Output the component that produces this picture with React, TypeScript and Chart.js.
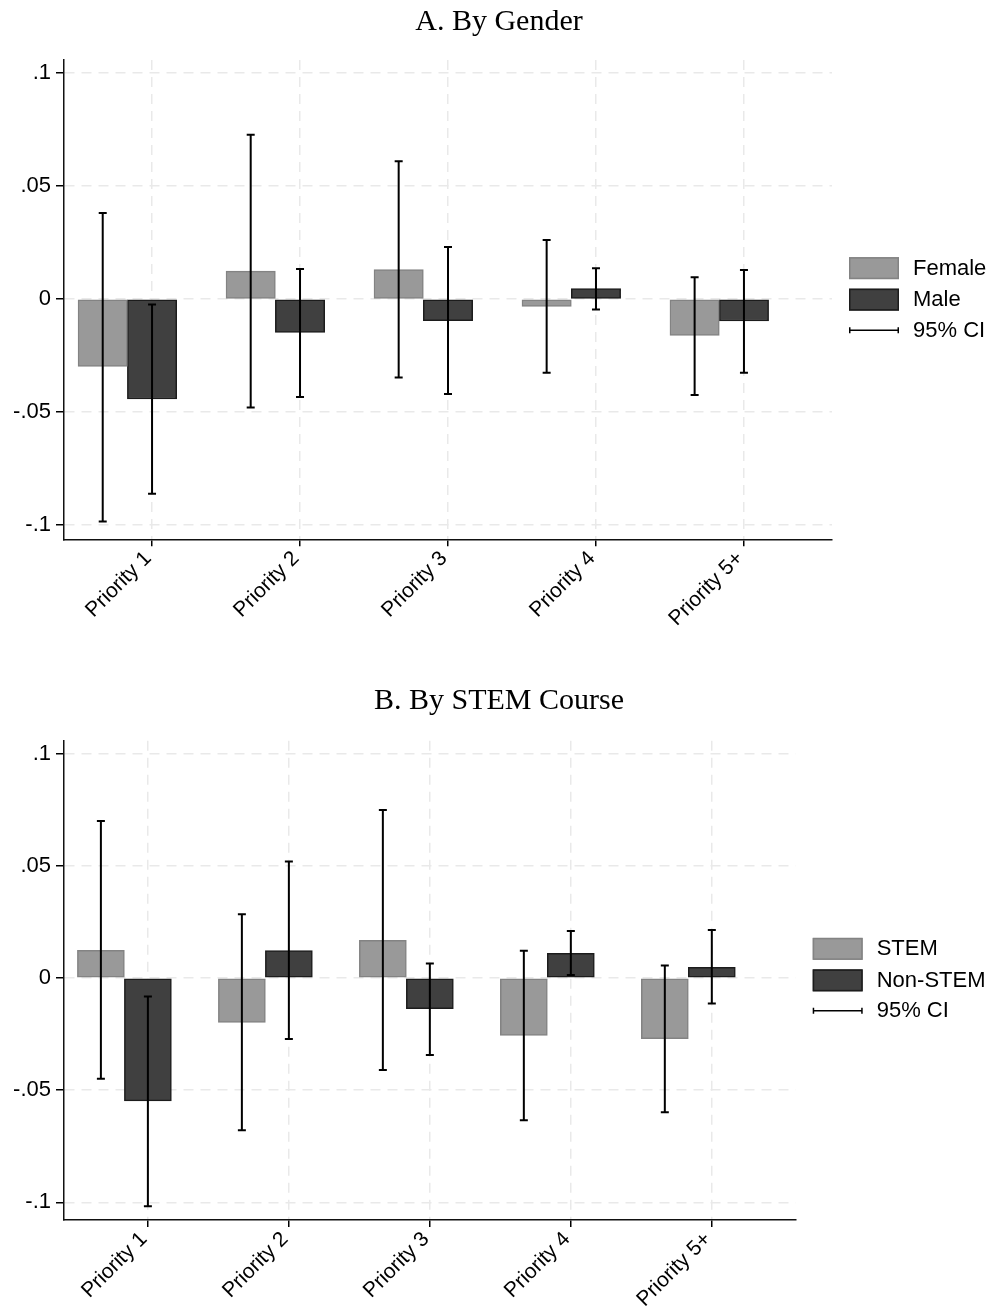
import React, { useEffect, useRef } from 'react';
import { Chart, registerables } from 'chart.js';

Chart.register(...registerables);

// ---------- data ----------
const categories = ['Priority 1', 'Priority 2', 'Priority 3', 'Priority 4', 'Priority 5+'];
const yTickValues = [-0.1, -0.05, 0, 0.05, 0.1];
const yTickLabels = ['-.1', '-.05', '0', '.05', '.1'];
const ciLabel = '95% CI';

// Panel A: by gender
const titleA = 'A. By Gender';
const femaleLabel = 'Female';
const femaleEst = [-0.0298, 0.0124, 0.0131, -0.0032, -0.0161];
const femaleLo = [-0.0984, -0.048, -0.0347, -0.0326, -0.0424];
const femaleHi = [0.0381, 0.0727, 0.061, 0.0261, 0.0097];
const maleLabel = 'Male';
const maleEst = [-0.0442, -0.0148, -0.0095, 0.0046, -0.0097];
const maleLo = [-0.0861, -0.0433, -0.042, -0.0046, -0.0326];
const maleHi = [-0.0024, 0.0133, 0.023, 0.0137, 0.0129];

// Panel B: by STEM course
const titleB = 'B. By STEM Course';
const stemLabel = 'STEM';
const stemEst = [0.0123, -0.0198, 0.0168, -0.0256, -0.027];
const stemLo = [-0.0449, -0.0679, -0.041, -0.0634, -0.0599];
const stemHi = [0.07, 0.0284, 0.0749, 0.0122, 0.0056];
const nonStemLabel = 'Non-STEM';
const nonStemEst = [-0.0548, 0.0122, -0.0137, 0.011, 0.0048];
const nonStemLo = [-0.1018, -0.0272, -0.0343, 0.0013, -0.0114];
const nonStemHi = [-0.0083, 0.0519, 0.0065, 0.021, 0.0214];

// ---------- styles ----------
const SANS = '"Liberation Sans", Arial, Helvetica, sans-serif';
const SERIF = '"Liberation Serif", "Times New Roman", serif';
const LIGHT_FILL = '#999999';
const LIGHT_BORDER = '#838383';
const DARK_FILL = '#404040';
const DARK_BORDER = '#1c1c1c';
const GRID = '#e9e9e9';
const W = 989;
const H = 654;

// ---------- plugins ----------
const errorBarPlugin = {
  id: 'errorBars',
  afterDatasetsDraw(chart: any) {
    const ctx = chart.ctx;
    const y = chart.scales.y;
    chart.data.datasets.forEach((ds: any, di: number) => {
      if (!ds.ci) return;
      const meta = chart.getDatasetMeta(di);
      meta.data.forEach((el: any, j: number) => {
        const x = el.x;
        const yl = y.getPixelForValue(ds.ci.lo[j]);
        const yh = y.getPixelForValue(ds.ci.hi[j]);
        ctx.save();
        ctx.strokeStyle = '#000';
        ctx.lineWidth = 2;
        ctx.beginPath();
        ctx.moveTo(x, yl);
        ctx.lineTo(x, yh);
        ctx.moveTo(x - 4, yl);
        ctx.lineTo(x + 4, yl);
        ctx.moveTo(x - 4, yh);
        ctx.lineTo(x + 4, yh);
        ctx.stroke();
        ctx.restore();
      });
    });
  },
};

const sideLegendPlugin = {
  id: 'sideLegend',
  afterDraw(chart: any) {
    const { ctx, chartArea } = chart;
    const x0 = chartArea.right + 17;
    const yTop = (chartArea.top + chartArea.bottom) / 2 - 42.5;
    const items = chart.data.datasets.filter((d: any) => d.label);
    ctx.save();
    ctx.font = `22px ${SANS}`;
    ctx.textBaseline = 'middle';
    ctx.textAlign = 'left';
    items.forEach((ds: any, k: number) => {
      const by = yTop + k * 31.5;
      ctx.fillStyle = ds.backgroundColor;
      ctx.fillRect(x0, by, 50, 22);
      ctx.strokeStyle = ds.borderColor;
      ctx.lineWidth = 1.5;
      ctx.strokeRect(x0 + 0.75, by + 0.75, 48.5, 20.5);
      ctx.fillStyle = '#000';
      ctx.fillText(ds.label, x0 + 64, by + 11.5);
    });
    const cy = yTop + items.length * 31.5 + 10;
    ctx.strokeStyle = '#000';
    ctx.lineWidth = 1.5;
    ctx.beginPath();
    ctx.moveTo(x0, cy);
    ctx.lineTo(x0 + 50, cy);
    ctx.moveTo(x0 + 0.75, cy - 3);
    ctx.lineTo(x0 + 0.75, cy + 3);
    ctx.moveTo(x0 + 49.25, cy - 3);
    ctx.lineTo(x0 + 49.25, cy + 3);
    ctx.stroke();
    ctx.fillStyle = '#000';
    ctx.fillText(ciLabel, x0 + 64, cy + 0.5);
    ctx.restore();
  },
};

const panelTitlePlugin = {
  id: 'panelTitle',
  afterDraw(chart: any, _args: any, opts: any) {
    const ctx = chart.ctx;
    ctx.save();
    ctx.font = `30px ${SERIF}`;
    ctx.fillStyle = '#000';
    ctx.textAlign = 'center';
    ctx.textBaseline = 'alphabetic';
    ctx.fillText(opts.text, opts.x, opts.y);
    ctx.restore();
  },
};

// ---------- config ----------
type PanelSpec = {
  title: string;
  titleBaseline: number;
  chartTop: number;
  chartBottom: number;
  chartRight: number;
  yMin: number;
  yMax: number;
  labels: [string, string];
  est: [number[], number[]];
  lo: [number[], number[]];
  hi: [number[], number[]];
};

function makeConfig(p: PanelSpec): any {
  const toPoints = (vals: (number | null)[]) => categories.map((_, i) => ({ x: i, y: vals[i] }));
  const common = { categoryPercentage: 1, barPercentage: 1, borderWidth: 1.5, borderSkipped: false };
  return {
    type: 'bar',
    data: {
      datasets: [
        {
          ...common,
          label: p.labels[0],
          data: toPoints(p.est[0]),
          backgroundColor: LIGHT_FILL,
          borderColor: LIGHT_BORDER,
          ci: { lo: p.lo[0], hi: p.hi[0] },
        },
        {
          ...common,
          label: p.labels[1],
          data: toPoints(p.est[1]),
          backgroundColor: DARK_FILL,
          borderColor: DARK_BORDER,
          ci: { lo: p.lo[1], hi: p.hi[1] },
        },
        {
          ...common,
          label: '',
          data: toPoints(categories.map(() => null)),
          backgroundColor: 'rgba(0,0,0,0)',
          borderColor: 'rgba(0,0,0,0)',
          borderWidth: 0,
        },
      ],
    },
    options: {
      responsive: false,
      animation: false,
      events: [],
      layout: { padding: { top: p.chartTop, right: W - p.chartRight, left: 0, bottom: 0 } },
      plugins: {
        legend: { display: false },
        title: { display: false },
        tooltip: { enabled: false },
        panelTitle: { text: p.title, x: 499, y: p.titleBaseline },
      },
      scales: {
        x: {
          type: 'linear',
          min: -0.595,
          max: 4.595,
          offset: false,
          afterBuildTicks: (s: any) => {
            s.ticks = categories.map((_, i) => ({ value: i }));
          },
          afterFit: (s: any) => {
            s.height = H - p.chartBottom;
          },
          grid: {
            display: true,
            offset: false,
            color: GRID,
            lineWidth: 1.5,
            drawTicks: true,
            tickLength: 7,
            tickColor: '#000',
            tickWidth: 1.5,
            tickBorderDash: [],
          },
          border: { display: true, color: '#111', width: 1.5, dash: [10, 7] },
          ticks: {
            autoSkip: false,
            minRotation: 45,
            maxRotation: 45,
            padding: 0,
            labelOffset: -4,
            color: '#000',
            font: { family: SANS, size: 21 },
            callback: (v: any) => categories[v] ?? '',
          },
        },
        y: {
          type: 'linear',
          min: p.yMin,
          max: p.yMax,
          afterBuildTicks: (s: any) => {
            s.ticks = yTickValues.map((v) => ({ value: v }));
          },
          afterFit: (s: any) => {
            s.width = 64;
          },
          grid: {
            display: true,
            color: GRID,
            lineWidth: 1.5,
            drawTicks: true,
            tickLength: 8,
            tickColor: '#000',
            tickWidth: 1.5,
            tickBorderDash: [],
          },
          border: { display: true, color: '#111', width: 1.5, dash: [10, 7] },
          ticks: {
            padding: 5,
            color: '#000',
            font: { family: SANS, size: 22 },
            callback: (v: any) => {
              const k = yTickValues.findIndex((t) => Math.abs(t - v) < 1e-9);
              return k >= 0 ? yTickLabels[k] : '';
            },
          },
        },
      },
    },
    plugins: [errorBarPlugin, sideLegendPlugin, panelTitlePlugin],
  };
}

const panelA: PanelSpec = {
  title: titleA,
  titleBaseline: 30,
  chartTop: 60,
  chartBottom: 539.3,
  chartRight: 832,
  yMin: -0.1063,
  yMax: 0.1058,
  labels: [femaleLabel, maleLabel],
  est: [femaleEst, maleEst],
  lo: [femaleLo, maleLo],
  hi: [femaleHi, maleHi],
};

const panelB: PanelSpec = {
  title: titleB,
  titleBaseline: 55,
  chartTop: 86.7,
  chartBottom: 566,
  chartRight: 795.7,
  yMin: -0.1079,
  yMax: 0.1058,
  labels: [stemLabel, nonStemLabel],
  est: [stemEst, nonStemEst],
  lo: [stemLo, nonStemLo],
  hi: [stemHi, nonStemHi],
};

function Panel({ spec, top }: { spec: PanelSpec; top: number }) {
  const ref = useRef<HTMLCanvasElement>(null);
  useEffect(() => {
    if (!ref.current) return;
    const chart = new Chart(ref.current, makeConfig(spec));
    return () => chart.destroy();
  }, [spec]);
  return (
    <canvas
      ref={ref}
      width={W}
      height={H}
      style={{ position: 'absolute', left: 0, top, width: W, height: H }}
    />
  );
}

export default function App() {
  return (
    <div style={{ position: 'absolute', left: 0, top: 0, width: W, height: 1308, background: '#fff' }}>
      <Panel spec={panelA} top={0} />
      <Panel spec={panelB} top={H} />
    </div>
  );
}
